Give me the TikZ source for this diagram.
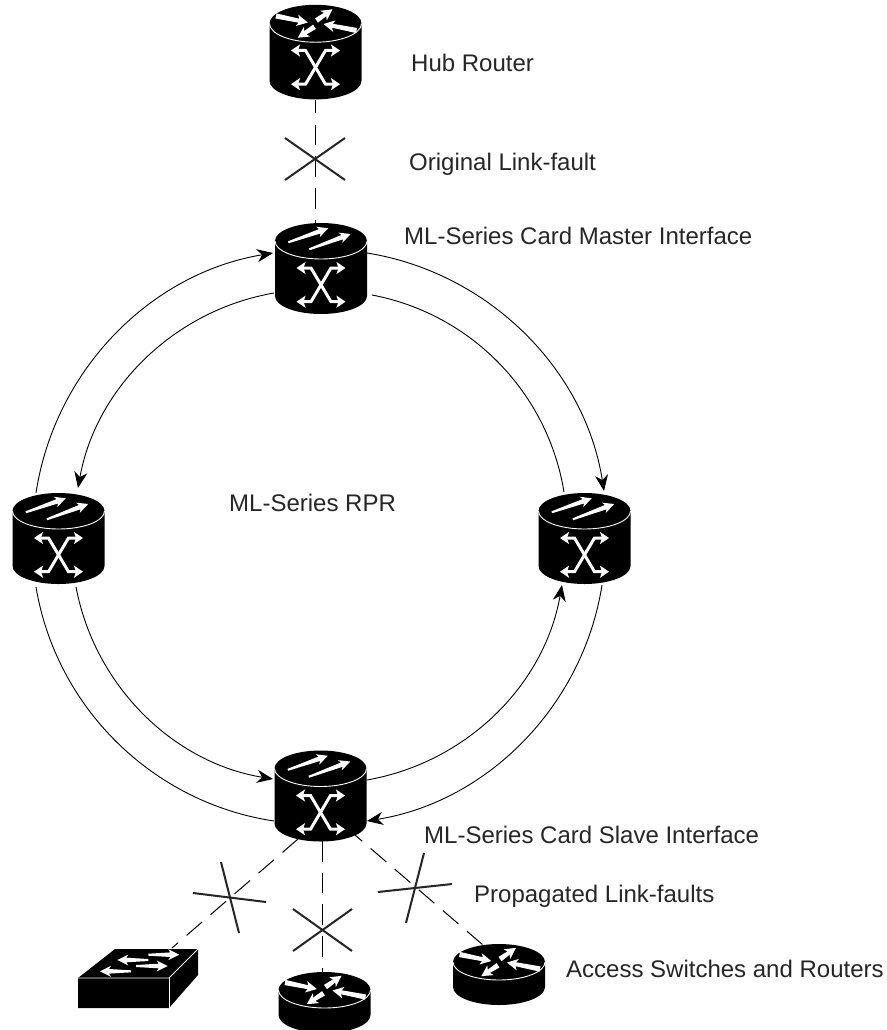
\documentclass[tikz,border=0pt]{standalone}
\usepackage{fontspec}
\setmainfont{Liberation Sans}
\usetikzlibrary{arrows.meta}
\newcommand{\TaperShape}[7]{%
  \pgfmathsetmacro{\tapA}{atan2(-(#4-(#2)),#3-(#1))}%
  \pgfmathsetmacro{\tapL}{veclen(#4-(#2),#3-(#1))}%
  \fill[white,shift={(#1,#2)},rotate=\tapA]
    (0pt,-#5pt)--(\tapL pt-9pt,-#6pt)--(\tapL pt-11pt,-#7pt)--(\tapL pt,0pt)--(\tapL pt-11pt,#7pt)--(\tapL pt-9pt,#6pt)--(0pt,#5pt)--cycle;}
\newcommand{\TaperArrow}[4]{\TaperShape{#1}{#2}{#3}{#4}{1.0}{2.3}{5.5}}
\newcommand{\WedgeArrow}[4]{\TaperShape{#1}{#2}{#3}{#4}{2.6}{2.0}{5.8}}
\tikzset{
  x=1pt,y=-1pt,
  cylbody/.pic={
    \fill[black] (-46,0) -- (-46,#1) arc[start angle=180,end angle=360,x radius=46pt,y radius=18pt]
      -- (46,0) arc[start angle=0,end angle=180,x radius=46pt,y radius=18pt] -- cycle;
    \draw[white,line width=0.9pt] (-46,0) arc[start angle=180,end angle=360,x radius=46pt,y radius=18pt];
  },
  twoarrows/.pic={
    \TaperArrow{-32.7}{1.3}{7.3}{-12.7}
    \TaperArrow{-11.7}{8.3}{29.7}{-7}
  },
  fourarrows/.pic={
    \WedgeArrow{-39.5}{-7.5}{-7.7}{-1}
    \WedgeArrow{1}{-3}{17}{-14.2}
    \WedgeArrow{41}{7}{8}{0.5}
    \WedgeArrow{-1}{3.3}{-17.7}{14.2}
  },
  xsym/.pic={
    \draw[white,line width=3pt,xhead-xhead] (-24.5,27)--(-10,27)--(10,60.7)--(24.5,60.7);
    \draw[white,line width=3pt,xhead-xhead] (24.5,27)--(10,27)--(-10,60.7)--(-24.5,60.7);
  },
  ringdev/.pic={\pic{cylbody=55};\pic{twoarrows};\pic{xsym};},
  hubdev/.pic={\pic[yscale=1.04]{cylbody=55};\pic{fourarrows};\pic{xsym};},
  accessdev/.pic={\pic{cylbody=25};\pic{fourarrows};},
  xhead/.tip={Stealth[length=9pt,width=12pt,inset=2pt]},
  ringlink/.style={black,line width=0.9pt,looseness=0.94},
  head/.style={-{Stealth[length=16pt,width=13pt,inset=5pt]}},
  faultlink/.style={black,line width=1pt,dash pattern=on 20.5pt off 11.2pt},
  faultmark/.style={draw=black!85,line width=2pt},
  lbl/.style={anchor=base west,inner sep=0pt,font=\fontsize{24}{28}\selectfont,text=black!85},
}
\begin{document}
\begin{tikzpicture}
\useasboundingbox (0,0) rectangle (886,1030);
\fill[white] (0,0) rectangle (886,1030);
% device positions
\coordinate (hub) at (315.5,23.5);
\coordinate (master) at (321,241);
\coordinate (leftdev) at (58.5,511);
\coordinate (rightdev) at (584.5,511);
\coordinate (slave) at (320.5,768.5);
\coordinate (accmid) at (324.5,990);
\coordinate (accright) at (499,962);
% ring end points
\coordinate (mUL) at (273,253);
\coordinate (mLL) at (274,293);
\coordinate (mUR) at (367,253);
\coordinate (mLR) at (372,295);
\coordinate (lUO) at (36,493);
\coordinate (lUI) at (78,488);
\coordinate (lLO) at (36,587);
\coordinate (lLI) at (76,587);
\coordinate (rUI) at (564,492);
\coordinate (rUO) at (604,491);
\coordinate (rLI) at (562,585);
\coordinate (rLO) at (602,585);
\coordinate (sUL) at (273,779);
\coordinate (sLL) at (274,821);
\coordinate (sUR) at (367,780);
\coordinate (sLR) at (367,821);
% link ends
\coordinate (hubS) at (315.5,100);
\coordinate (masterN) at (315.5,224);
\coordinate (slaveSW) at (298,839);
\coordinate (slaveS) at (322,841);
\coordinate (slaveSE) at (355,835);
\coordinate (switchN) at (172,948);
\coordinate (accmidN) at (322,972);
\coordinate (accrightN) at (483,945);
% ring
\draw[ringlink,head] (lUO) to[bend left=36] (mUL);
\draw[ringlink,head] (mLL) to[bend right=35] (lUI);
\draw[ringlink,head] (mUR) to[bend left=36] (rUO);
\draw[ringlink] (mLR) to[bend left=35] (rUI);
\draw[ringlink] (lLO) to[bend right=36] (sLL);
\draw[ringlink,head] (lLI) to[bend right=35] (sUL);
\draw[ringlink,head] (sUR) to[bend right=35] (rLI);
\draw[ringlink,head] (rLO) to[bend left=36] (sLR);
% fault links
\draw[faultlink,dash phase=7pt] (hubS) -- (masterN);
\draw[faultlink] (slaveSW) -- (switchN);
\draw[faultlink] (slaveS) -- (accmidN);
\draw[faultlink,dash phase=11pt] (slaveSE) -- (accrightN);
% fault marks
\draw[faultmark] (285,138) -- (345,180);
\draw[faultmark] (345,138) -- (285,180);
\draw[faultmark] (293,909) -- (352,951);
\draw[faultmark] (352,909) -- (293,951);
\draw[faultmark] (193,893) -- (266,902);
\draw[faultmark] (221,862) -- (239,933);
\draw[faultmark] (378,892) -- (452,884);
\draw[faultmark] (424,853) -- (406,923);
% devices
\pic at (hub) {hubdev};
\pic at (master) {ringdev};
\pic at (leftdev) {ringdev};
\pic at (rightdev) {ringdev};
\pic at (slave) {ringdev};
\pic at (accmid) {accessdev};
\pic at (accright) {accessdev};
% switch
\fill[black] (115,949) -- (198,949) -- (198,975) -- (169,1008) -- (78,1008) -- (78,978) -- cycle;
\draw[white,line width=0.9pt] (78,978) -- (169,978) -- (198,949);
\draw[white,line width=0.9pt] (169,978) -- (169,1008);
\TaperArrow{148.3}{954.7}{179.3}{954.7}
\TaperArrow{148.3}{960}{117.3}{960}
\TaperArrow{136}{966}{167.7}{966}
\TaperArrow{131}{971.3}{100}{971.3}
% labels
\node[lbl] (t1) at (411,72) {Hub Router};
\node[lbl] (t2) at (409,170) {Original Link-fault};
\node[lbl] (t3) at (404,244) {ML-Series Card Master Interface};
\node[lbl] (t4) at (229,511) {ML-Series RPR};
\node[lbl] (t5) at (424,843) {ML-Series Card Slave Interface};
\node[lbl] (t6) at (474,902) {Propagated Link-faults};
\node[lbl] (t7) at (566,977) {Access Switches and Routers};
\end{tikzpicture}
\end{document}
